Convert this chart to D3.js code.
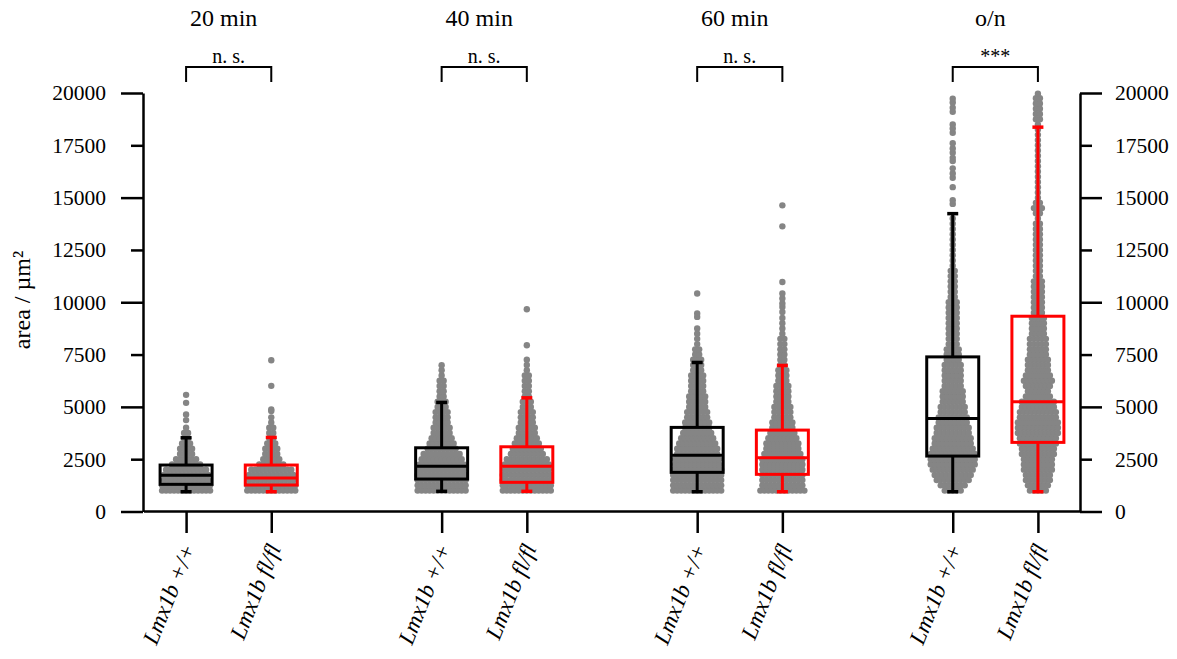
<!DOCTYPE html>
<html>
<head>
<meta charset="utf-8">
<script src="https://cdn.jsdelivr.net/npm/d3@7"></script>
<style>
  body { margin: 0; background: #fff; }
  svg text { font-family: "Liberation Serif", "Times New Roman", serif; fill: #000; }
</style>
</head>
<body>
<div id="chart"></div>
<script>
//Data///////////////////////////////////////////////////////////////////////////////////////////

var timepoints = ["20 min", "40 min", "60 min", "o/n"];
var genotypes = ["Lmx1b +/+", "Lmx1b fl/fl"];
var significance = ["n. s.", "n. s.", "n. s.", "***"];
var yTicks = [0, 2500, 5000, 7500, 10000, 12500, 15000, 17500, 20000];

// box statistics per box (wt, fl) x (20, 40, 60, o/n), area in µm²
var q1 =          [1298, 1265, 1551, 1394, 1871, 1776, 2649, 3303];
var median =      [1728, 1600, 2157, 2157, 2683, 2568, 4449, 5241];
var q3 =          [2220, 2220, 3045, 3093, 4019, 3890, 7389, 9332];
var whiskerLow =  [945, 945, 964, 964, 945, 945, 945, 945];
var whiskerHigh = [3523, 3540, 5212, 5432, 7122, 6979, 14234, 18368];

// number of cells per 250 µm² bin, first bin centred on 1000 µm²
var binFirst = 1000, binWidth = 250;
var counts20wt = [13, 13, 12, 12, 11, 8, 6, 4, 4, 3, 2, 2, 1];
var counts20fl = [13, 13, 12, 12, 11, 7, 5, 4, 4, 3, 2, 2, 2, 1, 1];
var counts40wt = [13, 13, 13, 13, 12, 12, 11, 10, 8, 7, 6, 5, 5, 4, 4, 4, 3, 3, 2, 2, 2, 2, 1, 1];
var counts40fl = [13, 13, 13, 13, 12, 12, 11, 9, 8, 7, 6, 5, 5, 4, 4, 4, 3, 3, 2, 2, 2, 2, 2, 1, 1, 1];
var counts60wt = [13, 13, 13, 13, 13, 12, 12, 11, 11, 10, 9, 8, 7, 7, 6, 6, 5, 5, 5, 4, 4, 4, 4, 3, 3, 3, 2, 2, 1, 1, 1, 1];
var counts60fl = [12, 11, 11, 11, 11, 11, 11, 10, 9, 9, 8, 7, 6, 6, 5, 5, 5, 4, 4, 4, 4, 3, 3, 3, 2, 2, 2, 2, 2, 2, 1, 1, 1, 1];
var countsONwt = [5, 7, 9, 10, 11, 12, 12, 12, 11, 10, 10, 9, 9, 8, 8, 7, 7, 6, 6, 6, 5, 5, 5, 5, 5, 4, 4, 4,
                  3, 3, 3, 3, 3, 3, 3, 3, 3, 2, 2, 2, 2, 2, 2, 1, 1, 1, 1, 1, 1, 1, 1, 1, 1];
var countsONfl = [5, 6, 7, 7, 8, 8, 8, 9, 9, 10, 10, 11, 11, 11, 10, 10, 9, 9, 7, 6, 7, 8, 7, 6, 6, 6, 5, 5,
                  5, 5, 4, 4, 4, 4, 3, 3, 3, 3, 3, 3, 3, 2, 2, 2, 2, 2, 2, 2, 2, 2, 2, 2, 1, 2, 3, 2,
                  1, 1, 1, 1, 1, 1, 1, 1, 1, 1, 1, 1, 1, 1, 1, 2, 2, 2, 2, 2];

// single high cells read one by one
var high20wt = [4367, 4640, 5193, 5575];
var high20fl = [4800, 4878, 6005, 7231];
var high40wt = [6993];
var high40fl = [7947, 9666];
var high60wt = [9300, 9460, 10415];
var high60fl = [9537, 9776, 9938, 10177, 10415, 10969, 13628, 14630];
var highONwt = [14700, 14880, 15500, 15950, 16150, 16400, 16750, 16900, 17150, 17350, 17600,
                18100, 18300, 18500, 19100, 19300, 19550, 19723];
var highONfl = [19962];

var allCounts = [counts20wt, counts20fl, counts40wt, counts40fl, counts60wt, counts60fl, countsONwt, countsONfl];
var allHigh = [high20wt, high20fl, high40wt, high40fl, high60wt, high60fl, highONwt, highONfl];

//Setup//////////////////////////////////////////////////////////////////////////////////////////

var W = 1177, H = 659;
var svg = d3.select("#chart").append("svg")
  .attr("width", W)
  .attr("height", H);

var slots = [0, 1, 3, 4, 6, 7, 9, 10];   // box positions on the x scale
var x = d3.scaleLinear().domain([-0.5, 10.5]).range([143.5, 1080.5]);
var y = d3.scaleLinear().domain([0, 20000]).range([511.5, 93]);
var colors = ["#000000", "#ff0000"];
var dotColor = "#858585";
var dotR = 3.2, dotStep = 4;
var boxHalf = 26, capHalf = 5.5;

//Points/////////////////////////////////////////////////////////////////////////////////////////

var pts = [];
allCounts.forEach(function(c, i) {
  var cx = x(slots[i]);
  c.forEach(function(n, k) {
    var v = binFirst + k * binWidth;
    for (var j = 0; j < n; j++) {
      pts.push({ x: cx + (j - (n - 1) / 2) * dotStep, v: v });
    }
  });
  allHigh[i].forEach(function(v) { pts.push({ x: cx, v: v }); });
});

svg.append("g")
  .selectAll("circle")
  .data(pts)
  .enter().append("circle")
    .attr("cx", function(d) { return d.x; })
    .attr("cy", function(d) { return y(d.v); })
    .attr("r", dotR)
    .style("fill", dotColor);

//Boxes//////////////////////////////////////////////////////////////////////////////////////////

var boxData = slots.map(function(s, i) {
  return { s: s, i: i, q1: q1[i], med: median[i], q3: q3[i], lo: whiskerLow[i], hi: whiskerHigh[i],
           color: colors[i % 2] };
});

var boxes = svg.append("g").selectAll("g")
  .data(boxData)
  .enter().append("g")
    .attr("stroke", function(d) { return d.color; })
    .attr("stroke-width", 3)
    .attr("fill", "none");

// whiskers
boxes.append("line")
  .attr("x1", function(d) { return x(d.s); })
  .attr("x2", function(d) { return x(d.s); })
  .attr("y1", function(d) { return y(d.hi); })
  .attr("y2", function(d) { return y(d.q3); });
boxes.append("line")
  .attr("x1", function(d) { return x(d.s); })
  .attr("x2", function(d) { return x(d.s); })
  .attr("y1", function(d) { return y(d.q1); })
  .attr("y2", function(d) { return y(d.lo); });
// caps
[ "hi", "lo" ].forEach(function(key) {
  boxes.append("line")
    .attr("stroke-width", 3.5)
    .attr("x1", function(d) { return x(d.s) - capHalf; })
    .attr("x2", function(d) { return x(d.s) + capHalf; })
    .attr("y1", function(d) { return y(d[key]); })
    .attr("y2", function(d) { return y(d[key]); });
});
// box
boxes.append("rect")
  .attr("x", function(d) { return x(d.s) - boxHalf; })
  .attr("width", boxHalf * 2)
  .attr("y", function(d) { return y(d.q3); })
  .attr("height", function(d) { return y(d.q1) - y(d.q3); });
// median
boxes.append("line")
  .attr("x1", function(d) { return x(d.s) - boxHalf; })
  .attr("x2", function(d) { return x(d.s) + boxHalf; })
  .attr("y1", function(d) { return y(d.med); })
  .attr("y2", function(d) { return y(d.med); });

//Axes///////////////////////////////////////////////////////////////////////////////////////////

function styleAxis(g) {
  g.attr("font-family", null).attr("font-size", null);
  g.selectAll("path, line").attr("stroke", "#000").attr("stroke-width", 2.5);
  g.selectAll("text").style("font-size", "21.5px");
  g.selectAll(".tick")
    .filter(function(d) { return d % 5000 !== 0; })
    .select("line")
    .attr("x2", function() { return +d3.select(this).attr("x2") > 0 ? 12 : -12; });
}

svg.append("g")
  .attr("transform", "translate(143,0)")
  .call(d3.axisLeft(y).tickValues(yTicks).tickFormat(d3.format("d"))
    .tickSize(22).tickSizeOuter(0).tickPadding(15))
  .call(styleAxis);

svg.append("g")
  .attr("transform", "translate(1080,0)")
  .call(d3.axisRight(y).tickValues(yTicks).tickFormat(d3.format("d"))
    .tickSize(22).tickSizeOuter(0).tickPadding(13))
  .call(styleAxis);

var xAxis = svg.append("g")
  .attr("transform", "translate(0,511)")
  .call(d3.axisBottom(x).tickValues(slots).tickSize(22).tickSizeOuter(0).tickFormat(""));
xAxis.selectAll("path, line").attr("stroke", "#000").attr("stroke-width", 2.5);

// rotated genotype labels
svg.append("g").selectAll("text")
  .data(slots)
  .enter().append("text")
    .attr("transform", function(d) { return "translate(" + (x(d) + 10) + ",548) rotate(-68)"; })
    .style("text-anchor", "end")
    .style("font-style", "italic")
    .style("font-size", "23px")
    .text(function(d, i) { return genotypes[i % 2]; });

// y title
svg.append("text")
  .attr("transform", "translate(30,300) rotate(-90)")
  .style("text-anchor", "middle")
  .style("font-size", "24px")
  .text("area / µm²");

//Group titles and significance//////////////////////////////////////////////////////////////////

timepoints.forEach(function(t, g) {
  var a = x(slots[g * 2]), b = x(slots[g * 2 + 1]);
  var mid = (a + b) / 2;
  svg.append("text")
    .attr("x", mid - 5)
    .attr("y", 26)
    .style("text-anchor", "middle")
    .style("font-size", "24px")
    .text(t);
  svg.append("path")
    .attr("d", "M" + a + ",82V67H" + b + "V82")
    .attr("fill", "none")
    .attr("stroke", "#000")
    .attr("stroke-width", 2);
  svg.append("text")
    .attr("x", mid)
    .attr("y", 63)
    .style("text-anchor", "middle")
    .style("font-size", "20px")
    .text(significance[g]);
});
</script>
</body>
</html>
